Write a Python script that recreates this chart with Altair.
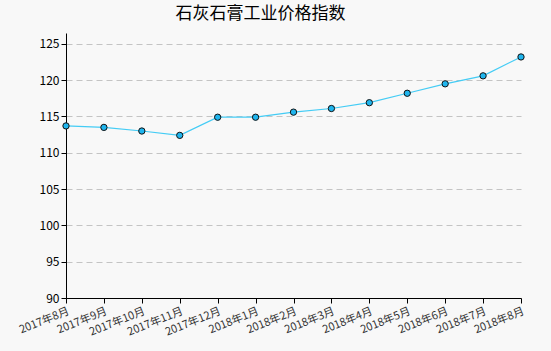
import altair as alt
import pandas as pd

months = ["2017年8月", "2017年9月", "2017年10月", "2017年11月", "2017年12月",
          "2018年1月", "2018年2月", "2018年3月", "2018年4月", "2018年5月",
          "2018年6月", "2018年7月", "2018年8月"]
values = [113.7, 113.5, 113.0, 112.4, 114.9, 114.9, 115.6, 116.1, 116.9,
          118.2, 119.5, 120.6, 123.2]
y_ticks = [90, 95, 100, 105, 110, 115, 120, 125]

df = pd.DataFrame({"month": months, "value": values})

font = "Noto Sans CJK SC"

x = alt.X("month:N", sort=months, scale=alt.Scale(type="point", padding=0),
          axis=alt.Axis(title=None, labelAngle=-22, labelAlign="right", labelBaseline="top",
                        labelFontSize=11, labelColor="#333333", labelFont=font,
                        domainColor="#000000", tickColor="#000000", tickSize=5,
                        labelPadding=2, grid=False, labelOverlap=False))
y = alt.Y("value:Q", scale=alt.Scale(domain=[90, 126.5], nice=False, zero=False),
          axis=alt.Axis(title=None, values=y_ticks, labelFontSize=12, labelColor="#000000",
                        labelFont=font, domainColor="#000000", tickColor="#000000",
                        tickSize=5, grid=True, gridColor="#c4c4c4", gridDash=[6, 4],
                        labelPadding=2))

line = alt.Chart(df).mark_line(color="#44ccf5", strokeWidth=1.2).encode(x=x, y=y)
points = alt.Chart(df).mark_point(filled=True, size=40, fill="#1fb5ee", stroke="#111111",
                                  strokeWidth=1, opacity=1).encode(x=x, y=y)

chart = (line + points).properties(
    width=455, height=265,
    background="#f8f8f8",
    padding={"left": 66, "top": 33, "right": 30, "bottom": 53},
    autosize=alt.AutoSizeParams(type="none"),
    title=alt.TitleParams("石灰石膏工业价格指数", fontSize=17, font=font, fontWeight="normal",
                          color="#000000", anchor="middle", dx=-33, offset=10),
).configure_view(stroke=None)

chart.save("out.html", embed_options={"renderer": "svg", "actions": False})
